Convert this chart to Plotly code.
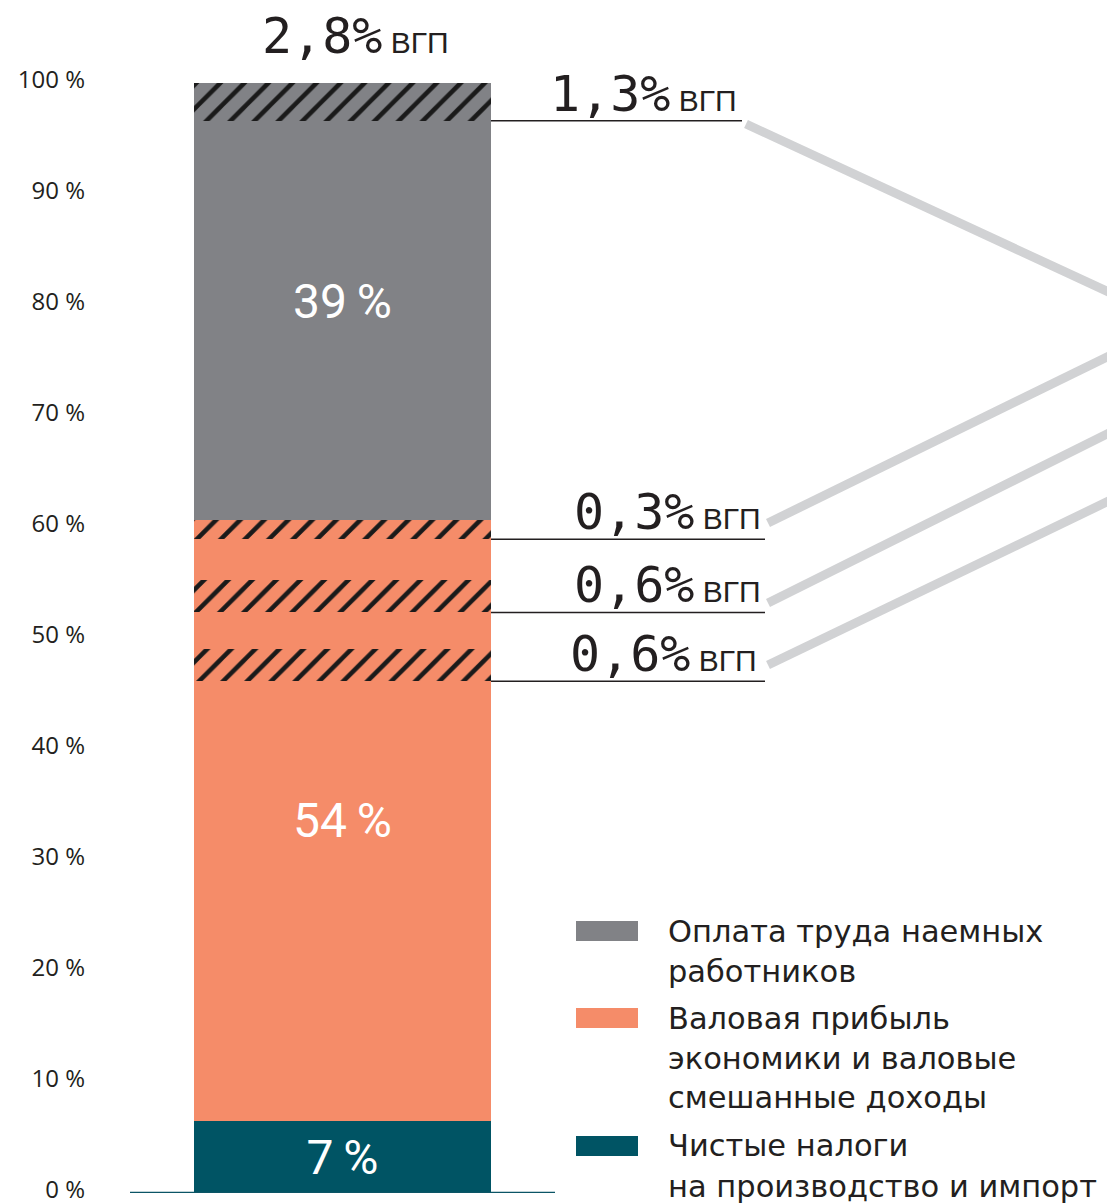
import numpy as np
import plotly.graph_objects as go

# ---------------- data ----------------
segment_names = [
    "Чистые налоги на производство и импорт",
    "Валовая прибыль экономики и валовые смешанные доходы",
    "Оплата труда наемных работников",
]
segment_values = [6.5, 54.1, 39.4]          # % of bar height
segment_labels = ["7 %", "54 %", "39 %"]
segment_colors = ["#005464", "#F58C69", "#818286"]

hatch_bases = [96.6, 58.9, 52.3, 46.1]
hatch_heights = [3.4, 1.7, 2.9, 2.9]
hatch_parent = [2, 1, 1, 1]                  # index of segment it belongs to
hatch_labels = ["1,3%", "0,3%", "0,6%", "0,6%"]
total_label = "2,8%"
unit_label = "ВГП"

tick_values = [0, 10, 20, 30, 40, 50, 60, 70, 80, 90, 100]
tick_labels = ["0 %", "10 %", "20 %", "30 %", "40 %", "50 %", "60 %",
               "70 %", "80 %", "90 %", "100 %"]

legend_lines = [
    ["Оплата труда наемных", "работников"],
    ["Валовая прибыль", "экономики и валовые", "смешанные доходы"],
    ["Чистые налоги", "на производство и импорт"],
]
legend_colors = ["#818286", "#F58C69", "#005464"]

# ---------------- geometry helpers ----------------
OFF = 8                      # page body margin
W, H = 1115 - OFF, 1203 - OFF
ML, MR, MT, MB = 100 - OFF, 0, 83 - OFF, 10
PW, PH = W - ML - MR, H - MT - MB
BAR_PX = 297.0
BAR_CENTER_PX = 342.5        # in reference-screen pixels
x0 = -(BAR_CENTER_PX - OFF - ML) / BAR_PX
x_range = [x0, x0 + PW / BAR_PX]


def px_to_x(px):
    return (px - BAR_CENTER_PX) / BAR_PX


def px_to_paper_x(px):
    return (px - OFF - ML) / PW


def py_to_paper_y(py):
    return (H - MB - (py - OFF)) / PH


fig = go.Figure()

bases = np.concatenate([[0], np.cumsum(segment_values)[:-1]])
for name, v, b, lab, col in zip(segment_names, segment_values, bases,
                                segment_labels, segment_colors):
    fig.add_trace(go.Bar(
        x=[0], y=[v], base=[b], width=1, name=name,
        marker=dict(color=col, line=dict(width=0)),
        text=[lab.replace(" ", "\u2009")], textposition="inside",
        insidetextanchor="middle", textangle=0,
        textfont=dict(family="Roboto", size=48, color="white"),
        showlegend=False, hoverinfo="skip",
    ))

for b, h, p in zip(hatch_bases, hatch_heights, hatch_parent):
    fig.add_trace(go.Bar(
        x=[0], y=[h], base=[b], width=1,
        marker=dict(color=segment_colors[p], line=dict(width=0),
                    pattern=dict(shape="/", fgcolor="#1a1a1a", fgopacity=1,
                                 fillmode="replace", size=17, solidity=0.27)),
        showlegend=False, hoverinfo="skip",
    ))

# baseline
fig.add_shape(type="line", xref="x", yref="y", x0=px_to_x(130), x1=px_to_x(555),
              y0=0, y1=0, line=dict(color="#0b5566", width=2.5))

# underlines and labels for hatched parts
line_ends = [742, 765, 765, 765]
label_right = [739, 763, 763, 759]
for b, lab, le, lr in zip(hatch_bases, hatch_labels, line_ends, label_right):
    fig.add_shape(type="line", xref="x", yref="y", x0=0.5, x1=px_to_x(le),
                  y0=b, y1=b, line=dict(color="#231f20", width=1.5))
    fig.add_annotation(
        xref="x", yref="y", x=px_to_x(lr), y=b, xanchor="right", yanchor="bottom",
        yshift=-4, showarrow=False,
        text=(f"{lab}<span style=\"font-family:Liberation Sans;font-size:30px\">"
              f" {unit_label}</span>"),
        font=dict(family="DejaVu Sans Mono", size=50, color="#231f20"),
    )

# total label on top
fig.add_annotation(
    xref="x", yref="y", x=px_to_x(355), y=100, xanchor="center", yanchor="bottom",
    yshift=17, showarrow=False, borderpad=0,
    text=(f"{total_label}<span style=\"font-family:Liberation Sans;font-size:30px\">"
          f" {unit_label}</span>"),
    font=dict(family="DejaVu Sans Mono", size=50, color="#231f20"),
)

# connector lines (decorative)
connectors = [((746, 124), (1115, 295)), ((768, 523), (1115, 353)),
              ((768, 603), (1115, 430)), ((768, 665), (1115, 498))]
for (sx, sy), (ex, ey) in connectors:
    fig.add_shape(type="line", xref="paper", yref="paper",
                  x0=px_to_paper_x(sx), y0=py_to_paper_y(sy),
                  x1=px_to_paper_x(ex + 5), y1=py_to_paper_y(ey + (ey - sy) / (ex - sx) * 5),
                  line=dict(color="#d1d2d4", width=9))

# legend
swatch_tops = [921, 1008, 1136]
line_centers = [[931, 971], [1018, 1058, 1097], [1145, 1186]]
for col, top, lines, centers in zip(legend_colors, swatch_tops, legend_lines, line_centers):
    fig.add_shape(type="rect", xref="paper", yref="paper",
                  x0=px_to_paper_x(576), x1=px_to_paper_x(638),
                  y0=py_to_paper_y(top + 20), y1=py_to_paper_y(top),
                  fillcolor=col, line=dict(width=0))
    for txt, cy in zip(lines, centers):
        fig.add_annotation(
            xref="paper", yref="paper", x=px_to_paper_x(666), y=py_to_paper_y(cy),
            xanchor="left", yanchor="middle", showarrow=False, text=txt,
            font=dict(family="DejaVu Sans", size=30.5, color="#231f20"),
        )

fig.update_layout(
    width=W, height=H,
    margin=dict(l=ML, r=MR, t=MT, b=MB, pad=0, autoexpand=False),
    plot_bgcolor="white", paper_bgcolor="white",
    barmode="overlay", bargap=0,
    xaxis=dict(range=x_range, visible=False, fixedrange=True, automargin=False),
    yaxis=dict(range=[0, 100], tickvals=tick_values, ticktext=tick_labels,
               showgrid=False, zeroline=False, showline=False, ticks="",
               automargin=False,
               ticklabelstandoff=14, ticklabelshift=-3, ticklabeloverflow="allow",
               tickfont=dict(family="Open Sans", size=24, color="#231f20")),
    uniformtext=dict(mode="show", minsize=10),
)

fig.write_html("out.html")
